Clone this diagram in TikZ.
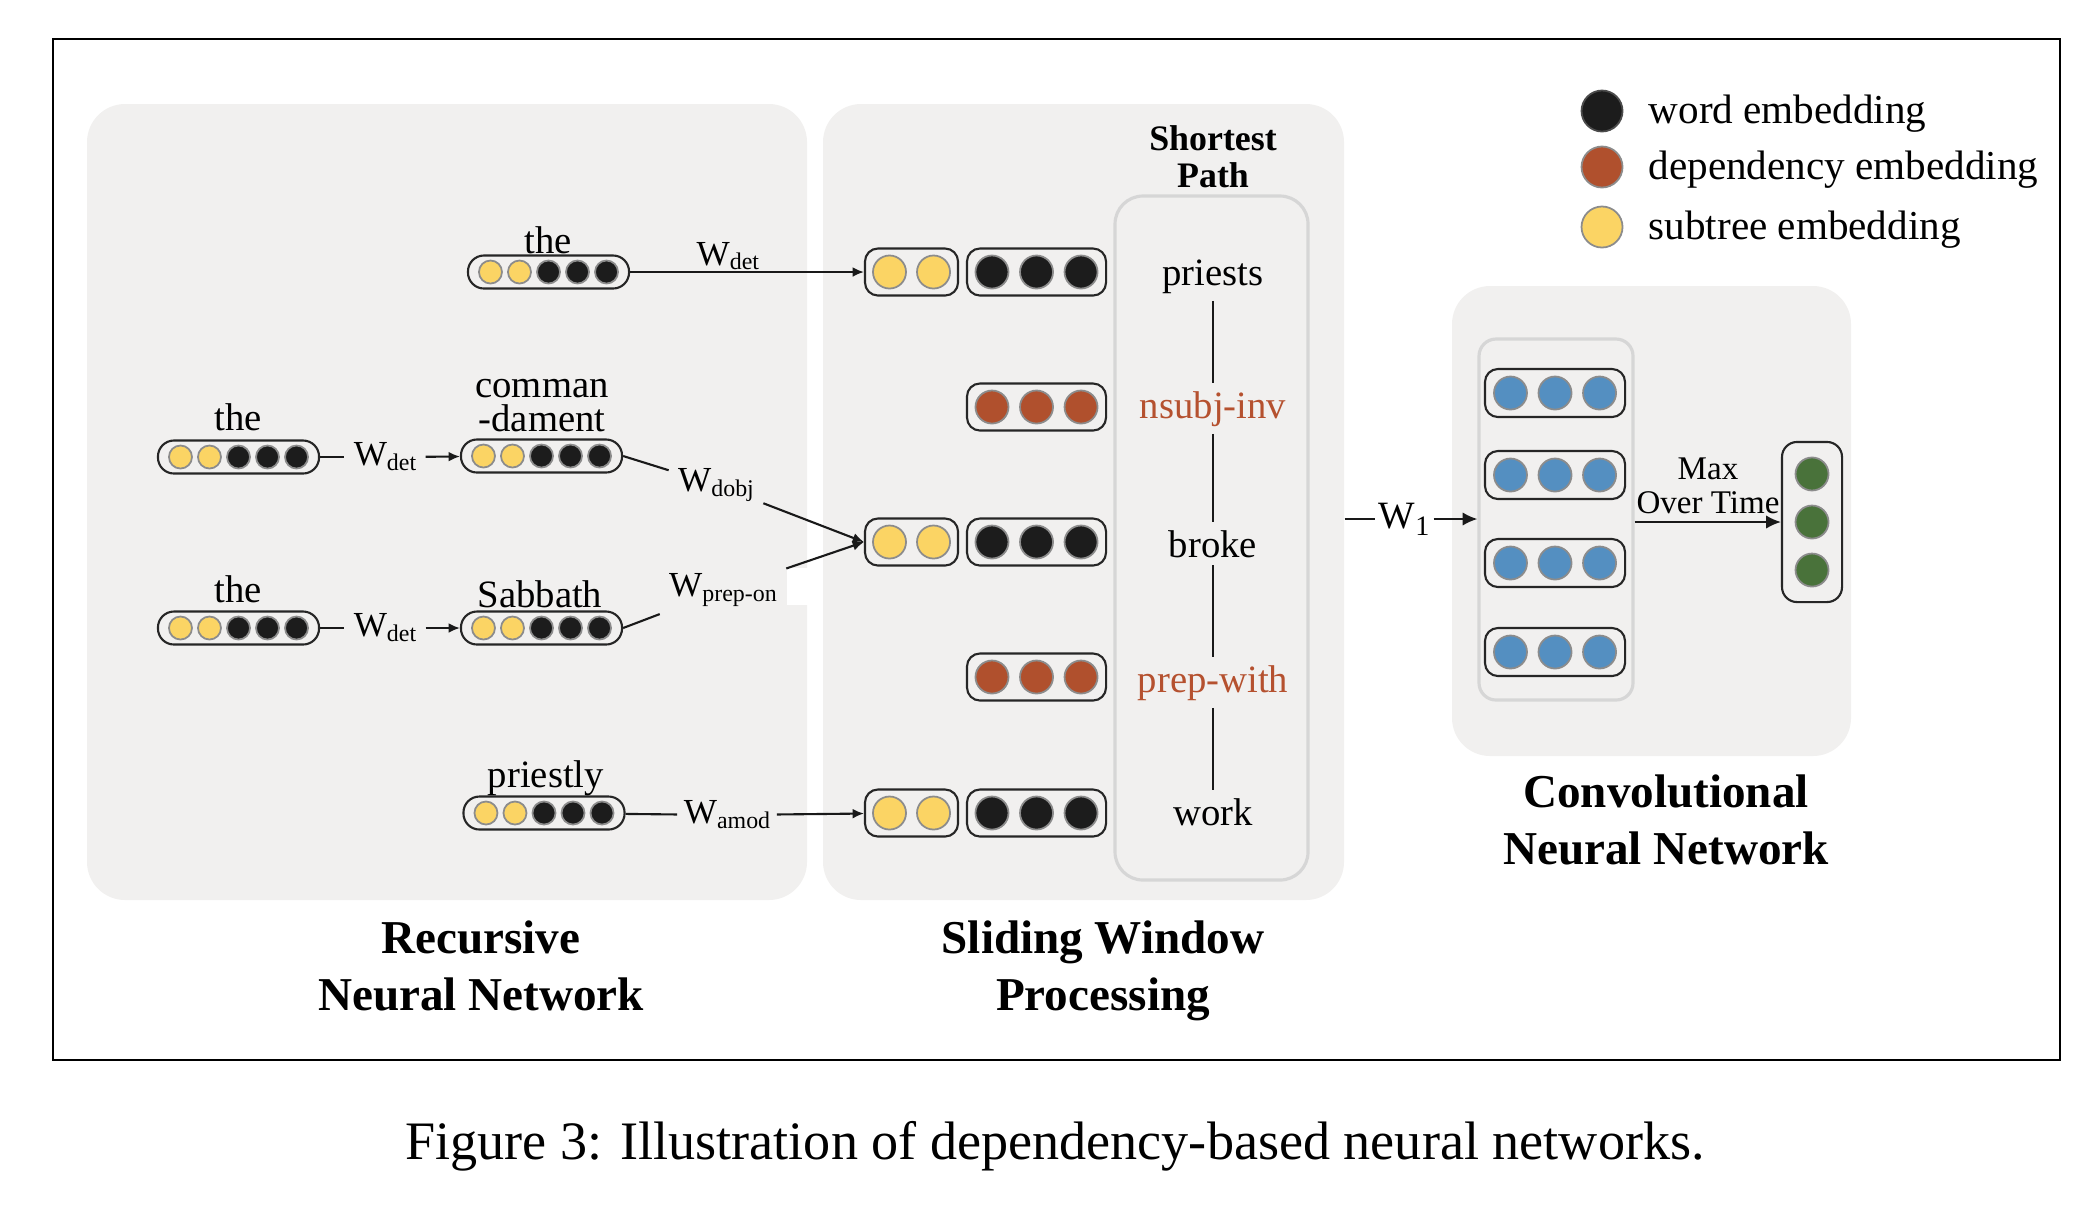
\documentclass[tikz,border=0pt]{standalone}
\usepackage{fontspec}
\setmainfont{Liberation Serif}
\usetikzlibrary{arrows.meta,fit}

\definecolor{panelgray}{HTML}{F1F0EF}
\definecolor{framegray}{HTML}{D6D6D6}
\definecolor{subyellow}{HTML}{FBD464}
\definecolor{wordblack}{HTML}{1C1C1C}
\definecolor{deprust}{HTML}{B0502D}
\definecolor{deptext}{HTML}{B5512F}
\definecolor{convblue}{HTML}{548FC1}
\definecolor{poolgreen}{HTML}{49723A}
\definecolor{dotrim}{HTML}{8C8C8C}

\newcommand{\wsub}[1]{W\raisebox{-1.4pt}{\fontsize{6.8}{8}\selectfont #1}}

\tikzset{
  panel/.style={fill=panelgray,rounded corners=0.38cm,inner sep=0pt},
  subpanel/.style={draw=framegray,line width=0.9pt,rounded corners=0.28cm,inner sep=0pt},
  pill/.style={draw=black!85,line width=0.6pt,rounded corners=0.16cm,
    minimum width=1.61cm,minimum height=0.33cm,inner sep=0pt},
  vecbox/.style={draw=black!85,line width=0.6pt,rounded corners=0.13cm,
    minimum height=0.47cm,inner sep=0pt},
  emb/.style={circle,draw=dotrim,line width=0.5pt,inner sep=0pt,minimum size=#1},
  emb/.default=0.33cm,
  word/.style={font=\fontsize{11}{9.6}\selectfont,inner sep=0pt,align=center},
  pathword/.style={font=\fontsize{11}{13}\selectfont,inner sep=2pt},
  wlab/.style={font=\fontsize{10}{12}\selectfont,inner sep=2.5pt},
  legtext/.style={font=\fontsize{11.7}{14}\selectfont,inner sep=0pt},
  heading/.style={font=\bfseries\fontsize{13.4}{16.2}\selectfont,align=center,inner sep=0pt},
  conn/.style={line width=0.6pt,draw=black!90},
  arr/.style={conn,-{Latex[length=3.2pt,width=2.8pt]}},
  bigarr/.style={conn,-{Latex[length=4.2pt,width=3.8pt]}}
}

\begin{document}
\begin{tikzpicture}[x=0.01cm,y=-0.01cm]
  \useasboundingbox (0,0) rectangle (2086,1208);
  \node[draw,line width=0.8pt,inner sep=0pt,fit={(53,39) (2060,1060)}] (frame) {};

  % the three grey blocks
  \node[panel,fit={(87,104) (807,900)}] (rnn) {};
  \node[panel,fit={(823,104) (1344,900)}] (swp) {};
  \node[panel,fit={(1452,286) (1851,756)}] (cnn) {};
  \node[subpanel,fit={(1115,196) (1308,880)}] (path) {};
  \node[subpanel,rounded corners=0.17cm,fit={(1479,339) (1633,700)}] (convcol) {};
  \fill[white] (787,568) rectangle (812,605);

  % recursive part
  \node[pill] (the1) at (548.5,272) {};
  \node[pill] (the2) at (238.5,457) {};
  \node[pill] (cmd) at (541.5,456) {};
  \node[pill] (the3) at (238.5,628) {};
  \node[pill] (sab) at (541.5,628) {};
  \node[pill] (prly) at (544,813) {};
  \foreach \p in {the1,the2,cmd,the3,sab,prly}
    \foreach \i/\c in {1/subyellow,2/subyellow,3/wordblack,4/wordblack,5/wordblack}
      \node[emb=0.23cm,fill=\c] (\p-\i) at ([xshift={(\i-3)*0.29cm}]\p.center) {};

  \node[word,anchor=base] (the1-t) at (548,253) {the};
  \node[word,anchor=base] (the2-t) at (238,430) {the};
  \node[word,anchor=base] (cmd-t) at (542,431) {comman\\-dament};
  \node[word,anchor=base] (the3-t) at (238,602) {the};
  \node[word,anchor=base] (sab-t) at (540,607) {Sabbath};
  \node[word,anchor=base] (prly-t) at (546,787) {priestly};

  % sliding window part
  \foreach \r/\y in {1/272,3/542,5/813} {
    \node[vecbox,minimum width=0.93cm] (sy\r) at (911.5,\y) {};
    \node[vecbox,minimum width=1.39cm] (sw\r) at (1036.5,\y) {};
    \foreach \i in {1,2}
      \node[emb,fill=subyellow] (sy\r-\i) at ([xshift={(\i-1.5)*0.44cm}]sy\r.center) {};
    \foreach \i in {1,2,3}
      \node[emb,fill=wordblack] (sw\r-\i) at ([xshift={(\i-2)*0.445cm}]sw\r.center) {};
  }
  \foreach \r/\y in {2/407,4/677} {
    \node[vecbox,minimum width=1.39cm] (sd\r) at (1036.5,\y) {};
    \foreach \i in {1,2,3}
      \node[emb,fill=deprust] (sd\r-\i) at ([xshift={(\i-2)*0.445cm}]sd\r.center) {};
  }

  \node[font=\bfseries\fontsize{10.2}{10.5}\selectfont,align=center,anchor=base] (sptitle) at (1213,187) {Shortest\\Path};
  \node[pathword,anchor=base] (priests) at (1213,285) {priests};
  \node[pathword,anchor=base,text=deptext] (nsubj) at (1213,418) {nsubj-inv};
  \node[pathword,anchor=base] (broke) at (1213,557) {broke};
  \node[pathword,anchor=base,text=deptext] (prepw) at (1213,692) {prep-with};
  \node[pathword,anchor=base] (work) at (1213,825) {work};
  \draw[conn] (priests) -- (nsubj) -- (broke) -- (prepw) -- (work);

  % recursive connections
  \node[wlab,anchor=base west,inner sep=0pt] (wdet1) at (696,265) {\wsub{det}};
  \draw[arr] (the1) -- (sy1);
  \node[wlab] (wdet2) at (385,457) {\wsub{det}};
  \draw[conn] (the2) -- (wdet2);
  \draw[arr] (wdet2) -- (cmd);
  \node[wlab] (wdet3) at (385,628) {\wsub{det}};
  \draw[conn] (the3) -- (wdet3);
  \draw[arr] (wdet3) -- (sab);
  \node[wlab] (wdobj) at (716,485) {\wsub{dobj}};
  \draw[conn] (cmd.east) -- (wdobj);
  \draw[arr] (wdobj) -- (sy3.west);
  \node[wlab] (wprep) at (723,590) {\wsub{prep-on}};
  \draw[conn] (sab.east) -- (wprep);
  \draw[arr] (wprep) -- (sy3.west);
  \node[wlab,inner sep=1.7pt] (wamod) at (727,815) {\wsub{amod}};
  \draw[conn] (prly) -- (wamod);
  \draw[arr] (wamod) -- (sy5);

  % convolution part
  \foreach \r/\y in {1/393,2/475,3/563,4/652} {
    \node[vecbox,minimum width=1.40cm,minimum height=0.48cm] (cv\r) at (1555,\y) {};
    \foreach \i in {1,2,3}
      \node[emb,fill=convblue] (cv\r-\i) at ([xshift={(\i-2)*0.445cm}]cv\r.center) {};
  }
  \node[vecbox,minimum width=0.6cm,minimum height=1.6cm,rounded corners=0.15cm] (pool) at (1812,522) {};
  \foreach \i in {1,2,3}
    \node[emb,fill=poolgreen] (pool-\i) at ([yshift={(2-\i)*0.48cm}]pool.center) {};

  \node[wlab,font=\fontsize{11}{13}\selectfont,inner sep=1pt] (w1) at (1404,519)
    {W\raisebox{-2pt}{\fontsize{8}{9}\selectfont 1}};
  \draw[conn] (w1 -| swp.east) -- (w1);
  \draw[bigarr] (w1) -- (w1 -| convcol.west);
  \draw[bigarr] (convcol.east |- pool) -- (pool);
  \node[font=\fontsize{9.4}{9.4}\selectfont,align=center,anchor=base] (maxot) at (1708,513) {Max\\Over Time};

  % legend
  \node[emb=0.41cm,fill=wordblack,draw=black!70] (lg1) at (1602,111) {};
  \node[emb=0.41cm,fill=deprust] (lg2) at (1602,167) {};
  \node[emb=0.41cm,fill=subyellow] (lg3) at (1602,227) {};
  \node[legtext,anchor=base west] (lg1-t) at (1648,123) {word embedding};
  \node[legtext,anchor=base west] (lg2-t) at (1648,179) {dependency embedding};
  \node[legtext,anchor=base west] (lg3-t) at (1648,239) {subtree embedding};

  % titles
  \node[heading,anchor=base] (rnnttl) at (481,1010) {Recursive\\Neural Network};
  \node[heading,anchor=base] (swttl) at (1103,1010) {Sliding Window\\Processing};
  \node[heading,anchor=base] (cnnttl) at (1666,864) {Convolutional\\Neural Network};

  \node[font=\fontsize{15.4}{18}\selectfont,anchor=base] (caption) at (1055,1159)
    {Figure 3: Illustration of dependency-based neural networks.};
\end{tikzpicture}
\end{document}
